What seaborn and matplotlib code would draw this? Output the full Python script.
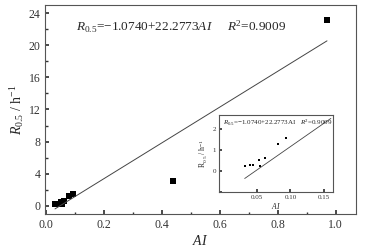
import numpy as np
import pandas as pd
import seaborn as sns
import matplotlib.pyplot as plt
from matplotlib.ticker import MultipleLocator

# data
ai = [0.032, 0.040, 0.044, 0.053, 0.055, 0.062, 0.081, 0.093, 0.44, 0.97]
r05 = [0.25, 0.28, 0.30, 0.53, 0.22, 0.62, 1.30, 1.55, 3.1, 23.1]
fit_a, fit_b = -1.0740, 22.2773
fit_x_main = [0.032, 0.97]
fit_x_inset = [0.032, 0.16]

sns.set_theme(style="ticks")
plt.rcParams['font.family'] = ['Liberation Serif', 'DejaVu Serif']
plt.rcParams['mathtext.fontset'] = 'custom'
plt.rcParams['mathtext.rm'] = 'Liberation Serif'
plt.rcParams['mathtext.it'] = 'Liberation Serif:italic'
plt.rcParams['axes.edgecolor'] = '#555555'
plt.rcParams['axes.linewidth'] = 0.8

df = pd.DataFrame({'AI': ai, 'R': r05})
df_in = df[df['AI'] < 0.2]
fit_main = pd.DataFrame({'AI': fit_x_main, 'R': [fit_a + fit_b * x for x in fit_x_main]})
fit_in = pd.DataFrame({'AI': fit_x_inset, 'R': [fit_a + fit_b * x for x in fit_x_inset]})

fig = plt.figure(figsize=(3.67, 2.48), dpi=100)
ax = fig.add_axes([0.123, 0.137, 0.847, 0.843])
sns.scatterplot(data=df, x='AI', y='R', marker='s', s=16, color='black',
                edgecolor='black', linewidth=0, ax=ax)
sns.lineplot(data=fit_main, x='AI', y='R', color='#444444', lw=0.7, ax=ax)
ax.set_xlim(-0.002, 1.07)
ax.set_ylim(-1, 25)
ax.xaxis.set_major_locator(MultipleLocator(0.2))
ax.xaxis.set_minor_locator(MultipleLocator(0.1))
ax.yaxis.set_major_locator(MultipleLocator(4))
ax.yaxis.set_minor_locator(MultipleLocator(2))
ax.xaxis.set_major_formatter(plt.FuncFormatter(lambda v, p: f"{v:.1f}"))
ax.tick_params(which='both', direction='in', labelsize=8.5, colors='#333333')
ax.tick_params(which='major', length=3)
ax.tick_params(which='minor', length=1.8)
for s in ['top', 'right']:
    ax.spines[s].set_visible(True)
ax.set_xlabel(r'$AI$', fontsize=10, labelpad=2)
ax.set_ylabel(r'$R_{0.5}$ / h$^{-1}$', fontsize=10, labelpad=2)
ax.text(0.1, 0.895, r'$R_{0.5}$=−1.0740+22.2773$AI$     $R^2$=0.9009',
        transform=ax.transAxes, fontsize=9.5, va='center')

ins = fig.add_axes([0.597, 0.226, 0.310, 0.310])
sns.scatterplot(data=df_in, x='AI', y='R', marker='s', s=3, color='black',
                edgecolor='black', linewidth=0, ax=ins)
sns.lineplot(data=fit_in, x='AI', y='R', color='#444444', lw=0.6, ax=ins)
ins.set_xlim(-0.006, 0.163)
ins.set_ylim(-0.95, 2.65)
ins.set_xticks([0.05, 0.10, 0.15])
ins.set_xticklabels(['0.05', '0.10', '0.15'])
ins.set_yticks([-1, 0, 1, 2])
ins.set_yticklabels(['', '0', '1', '2'])
ins.tick_params(direction='in', labelsize=5, length=2, pad=2, colors='#333333')
for s in ['top', 'right']:
    ins.spines[s].set_visible(True)
ins.set_xlabel(r'$AI$', fontsize=5.5, labelpad=1)
ins.set_ylabel(r'R$_{0.5}$ / h$^{-1}$', fontsize=5.5, labelpad=2)
ins.text(0.03, 0.9, r'$R_{0.5}$=−1.0740+22.2773AI   $R^2$=0.9009',
         transform=ins.transAxes, fontsize=5, va='center')

fig.savefig('out.png', dpi=100)
